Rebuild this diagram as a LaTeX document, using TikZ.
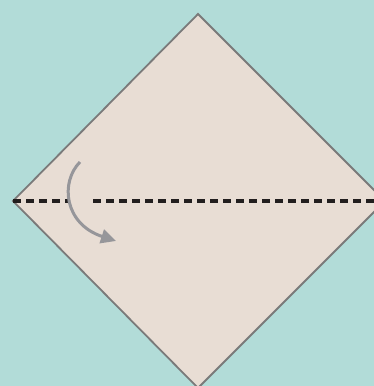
\documentclass[tikz,border=0pt]{standalone}
\usetikzlibrary{arrows.meta}
\definecolor{bgteal}{RGB}{178,220,216}
\definecolor{paper}{RGB}{232,221,212}
\definecolor{edgegray}{RGB}{122,122,122}
\definecolor{foldline}{RGB}{34,30,30}
\definecolor{arrowgray}{RGB}{150,150,154}
\tikzset{
  sheet/.style={fill=paper,draw=edgegray,line width=1.8pt,line join=miter},
  fold/.style={draw=foldline,line width=3.2pt,dash pattern=on 8pt off 5pt},
  turn/.style={draw=arrowgray,line width=3pt,-{Triangle[length=15pt,width=14pt]}}
}
\begin{document}
\begin{tikzpicture}[x=1pt,y=-1pt]
\fill[bgteal] (0,0) rectangle (374,386);
\useasboundingbox (0,0) rectangle (374,386);
\begin{scope}
\clip (0,0) rectangle (374,386);
\coordinate (T) at (198,14);
\coordinate (L) at (13,201);
\coordinate (R) at (385,201);
\coordinate (B) at (198,388);
\draw[sheet] (T) -- (R) -- (B) -- (L) -- cycle;
\coordinate (g1) at (68,201);
\coordinate (g2) at (93,201);
\coordinate (re) at (378,201);
\draw[fold] (L) -- (g1);
\draw[fold] (g2) -- (re);
\coordinate (a0) at (80,162);
\coordinate (a1) at (116,241);
\draw[turn] (a0) .. controls (60,182) and (64,224) .. (a1);
\end{scope}
\end{tikzpicture}
\end{document}
